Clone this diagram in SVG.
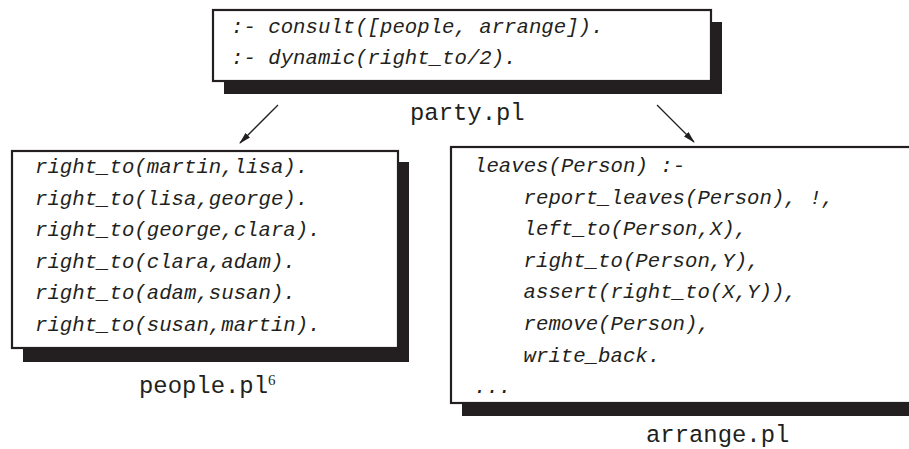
<svg xmlns="http://www.w3.org/2000/svg" width="909" height="449" viewBox="0 0 909 449">
<style>
.shadow{fill:#231f20;}
.box{fill:#ffffff;stroke:#231f20;stroke-width:2.2;}
.code{font-family:"Liberation Mono","DejaVu Sans Mono",monospace;font-style:italic;font-size:20.7px;fill:#231f20;}
.label{font-family:"Liberation Mono","DejaVu Sans Mono",monospace;font-size:23.9px;fill:#231f20;}
.sup{font-family:"Liberation Serif","DejaVu Serif",serif;font-size:15px;fill:#231f20;}
.conn{stroke:#231f20;stroke-width:1.3;fill:none;}
</style>
<defs>
<marker id="ah" viewBox="0 0 12 8" refX="11" refY="4" markerWidth="12" markerHeight="8" markerUnits="userSpaceOnUse" orient="auto">
<path d="M0,0.8 L12,4 L0,7.2 Z" fill="#231f20"/>
</marker>
</defs>
<rect width="909" height="449" fill="#ffffff"/>
<g id="party">
<rect class="shadow" x="224" y="22" width="498" height="72"/>
<rect class="box" x="213" y="10" width="498" height="71"/>
<text class="code" x="231" y="33">:- consult([people, arrange]).</text>
<text class="code" x="231" y="64">:- dynamic(right_to/2).</text>
<text class="label" x="410" y="120">party.pl</text>
</g>
<g id="people">
<rect class="shadow" x="23" y="162" width="386" height="200"/>
<rect class="box" x="12" y="151" width="386" height="197"/>
<text class="code" x="35" y="173">right_to(martin,lisa).</text>
<text class="code" x="35" y="204.5">right_to(lisa,george).</text>
<text class="code" x="35" y="236">right_to(george,clara).</text>
<text class="code" x="35" y="267.5">right_to(clara,adam).</text>
<text class="code" x="35" y="299">right_to(adam,susan).</text>
<text class="code" x="35" y="330.5">right_to(susan,martin).</text>
<text class="label" x="139" y="393">people.pl</text>
<text class="sup" x="268" y="385">6</text>
</g>
<g id="arrange">
<rect class="shadow" x="462" y="159" width="540" height="257"/>
<rect class="box" x="451" y="147" width="540" height="256"/>
<text class="code" x="474" y="172">leaves(Person) :-</text>
<text class="code" x="523.6" y="203.5">report_leaves(Person), !,</text>
<text class="code" x="523.6" y="235">left_to(Person,X),</text>
<text class="code" x="523.6" y="267">right_to(Person,Y),</text>
<text class="code" x="523.6" y="298">assert(right_to(X,Y)),</text>
<text class="code" x="523.6" y="330">remove(Person),</text>
<text class="code" x="523.6" y="362">write_back.</text>
<text class="code" x="474" y="393">...</text>
<text class="label" x="646" y="442">arrange.pl</text>
</g>
<g id="connectors">
<line class="conn" x1="278" y1="105" x2="240" y2="143" marker-end="url(#ah)"/>
<line class="conn" x1="657" y1="105" x2="694" y2="142" marker-end="url(#ah)"/>
</g>
</svg>
